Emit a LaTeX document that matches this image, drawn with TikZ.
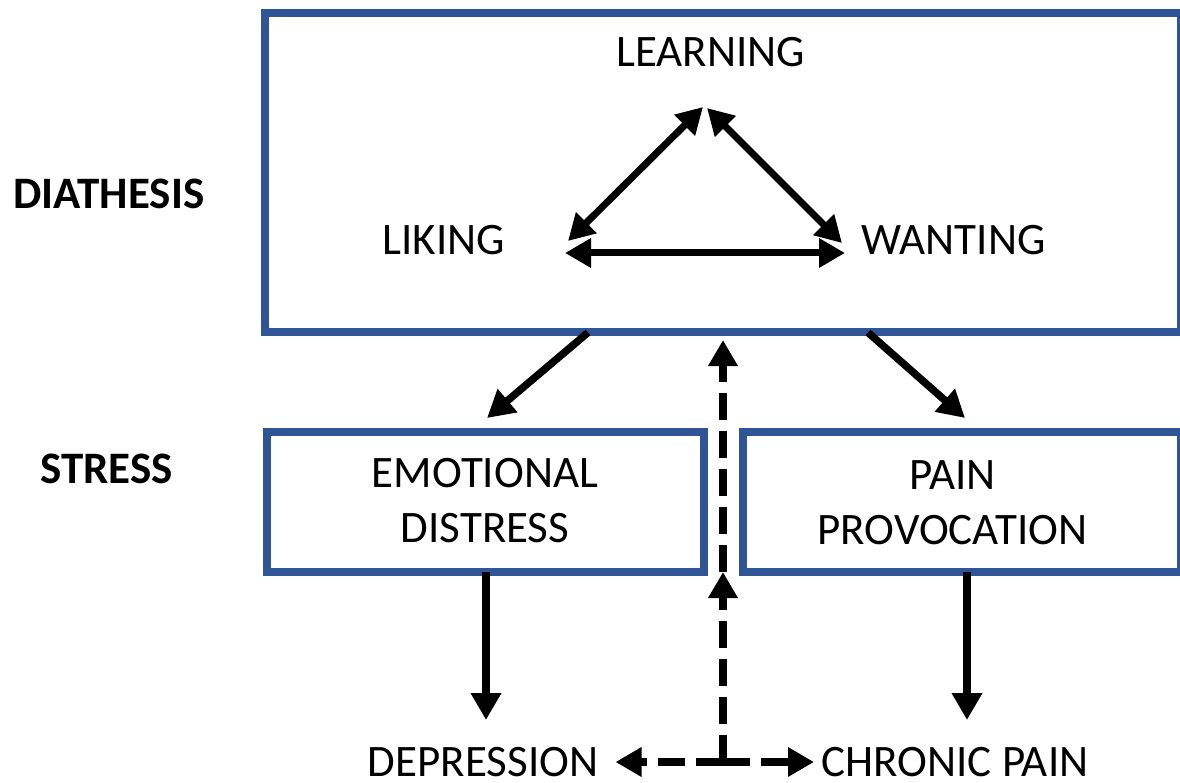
\documentclass[tikz,border=0pt]{standalone}
\usepackage{fontspec}
\setmainfont{Carlito}
\usetikzlibrary{arrows.meta}
\definecolor{frameblue}{RGB}{47,85,151}

\begin{document}
\begin{tikzpicture}[x=1pt, y=-1pt,
        frame/.style={rectangle, draw=frameblue, line width=8pt, inner sep=0pt,
                      outer sep=0pt},
        word/.style={inner sep=0pt, anchor=base, font=\fontsize{45}{55}\selectfont},
        level/.style={word, font=\fontsize{45}{55}\selectfont\bfseries},
        pair/.style={inner sep=0pt, align=center, font=\fontsize{45}{55}\selectfont},
        link/.style={line width=7.5pt, -{Triangle[length=27pt, width=29pt]}},
        both/.style={line width=7pt, {Triangle[length=26pt, width=28pt]}-{Triangle[length=26pt, width=28pt]}},
        hint/.style={line width=8pt, dash pattern=on 27pt off 11pt,
                     -{Triangle[length=26pt, width=28pt]}}]
  \useasboundingbox (0,0) rectangle (1180,783);
  \node[frame, minimum width=916.5pt, minimum height=319.5pt] (diath) at (722.75,172.75) {};
  \node[frame, minimum width=437pt, minimum height=140.5pt] (emo) at (485,501.75) {};
  \node[frame, minimum width=438.5pt, minimum height=140.5pt] (pain) at (961.75,501.75) {};

  \node[level] (diathesis) at (109,209) {DIATHESIS};
  \node[level] (stress) at (106.5,483) {STRESS};
  \node[word] (learning) at (710.5,67) {LEARNING};
  \node[word] (liking) at (443.6,255) {LIKING};
  \node[word] (wanting) at (953.5,255) {WANTING};
  \node[pair] (emotional) at (485,501) {EMOTIONAL\\DISTRESS};
  \node[pair] (provocation) at (952.5,502.5) {PAIN\\PROVOCATION};
  \node[word] (depression) at (483,776) {DEPRESSION};
  \node[word] (chronic) at (955,776) {CHRONIC PAIN};

  \draw[both] ([shift={(124.4,-14)}]liking.base) -- ([shift={(-7.5,40)}]learning.base);
  \draw[both] ([shift={(-111.5,-12)}]wanting.base) -- ([shift={(-3.5,41)}]learning.base);
  \draw[both] ([shift={(121.4,-2)}]liking.base) -- ([shift={(-108.5,-2)}]wanting.base);

  \draw[link] ([shift={(-134.75,0)}]diath.south) -- ([shift={(2,-13.5)}]emo.north);
  \draw[link] ([shift={(145.25,0)}]diath.south) -- ([shift={(3.25,-13.5)}]pain.north);
  \draw[link] ([xshift=1pt]emo.south) -- ([shift={(3,-56)}]depression.base);
  \draw[link] ([xshift=5.25pt]pain.south) -- ([shift={(12,-56)}]chronic.base);

  \coordinate (hub) at (723,762);
  \draw[hint, shorten >=7.5pt] (hub) -- (hub |- diath.south);
  \draw[hint] (hub) -- (hub |- emo.south);
  \draw[hint] (hub) -- ([shift={(132.5,-14)}]depression.base);
  \draw[hint] (hub) -- ([shift={(-141,-14)}]chronic.base);
\end{tikzpicture}
\end{document}
